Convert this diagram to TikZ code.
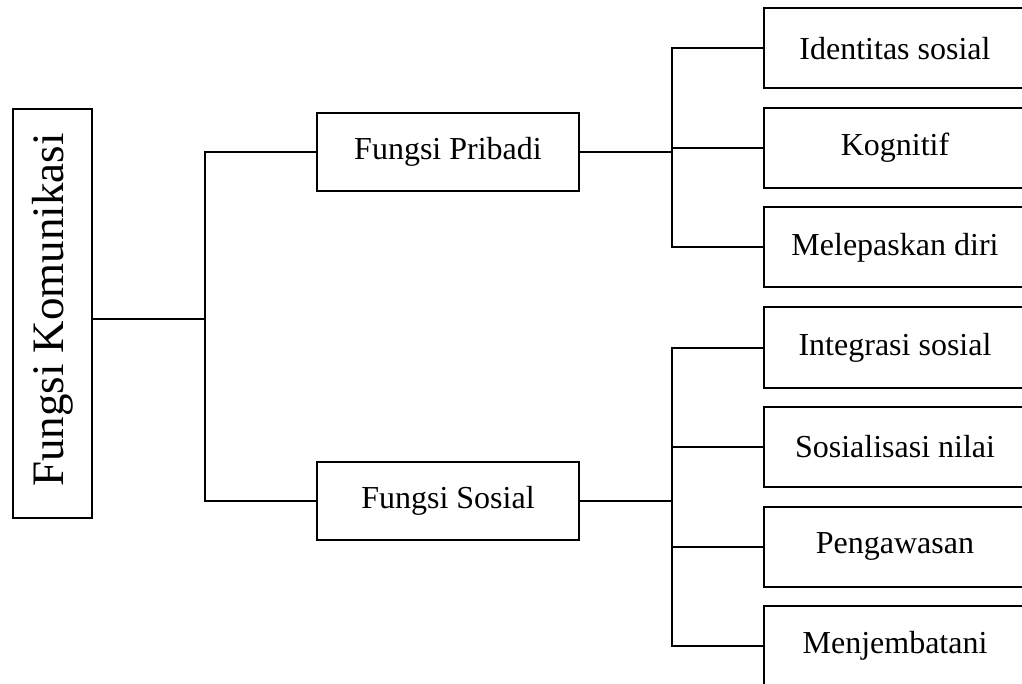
\documentclass[tikz,border=0pt]{standalone}
\usepackage{fontspec}
\setmainfont{Liberation Serif}
\begin{document}
\begin{tikzpicture}[x=1pt,y=-1pt,
  box/.style={draw, line width=2pt, inner sep=0pt, outer sep=0pt, minimum width=262pt, font=\fontsize{32}{38}\selectfont},
  midbox/.style={box, minimum height=78pt},
  leafbox/.style={box, minimum height=80pt},
  conn/.style={line width=2pt}]
\useasboundingbox (0,0) rectangle (1022,684);
\clip (0,0) rectangle (1022,684);
\node[draw, line width=2pt, inner sep=0pt, outer sep=0pt, minimum width=79pt, minimum height=409pt] (kom) at (52.5,313.5) {};
\node[rotate=90, inner sep=0pt, font=\fontsize{45}{54}\selectfont] (komt) at (52.5,310) {Fungsi Komunikasi};
\node[midbox] (prib) at (448,152) {Fungsi Pribadi};
\node[midbox] (sos) at (448,500.5) {Fungsi Sosial};
\node[leafbox] (b1) at (895,48.5) {Identitas sosial};
\node[leafbox] (b2) at (895,148) {Kognitif};
\node[leafbox] (b3) at (895,247.5) {Melepaskan diri};
\node[leafbox] (b4) at (895,347.5) {Integrasi sosial};
\node[leafbox] (b5) at (895,447) {Sosialisasi nilai};
\node[leafbox] (b6) at (895,546.5) {Pengawasan};
\node[leafbox] (b7) at (895,646) {Menjembatani};
\coordinate (ja) at (205,319);
\coordinate (tp) at (672,152);
\coordinate (ts) at (672,500.5);
\draw[conn] (kom.east |- ja) -- (ja);
\draw[conn] (prib.west) -| (ja) |- (sos.west);
\draw[conn] (prib.east) -- (tp);
\draw[conn] (b1.west) -| (tp) |- (b3.west);
\draw[conn] (b2.west) -- (b2.west -| tp);
\draw[conn] (sos.east) -- (ts);
\draw[conn] (b4.west) -| (ts) |- (b7.west);
\draw[conn] (b5.west) -- (b5.west -| ts);
\draw[conn] (b6.west) -- (b6.west -| ts);
\end{tikzpicture}
\end{document}
